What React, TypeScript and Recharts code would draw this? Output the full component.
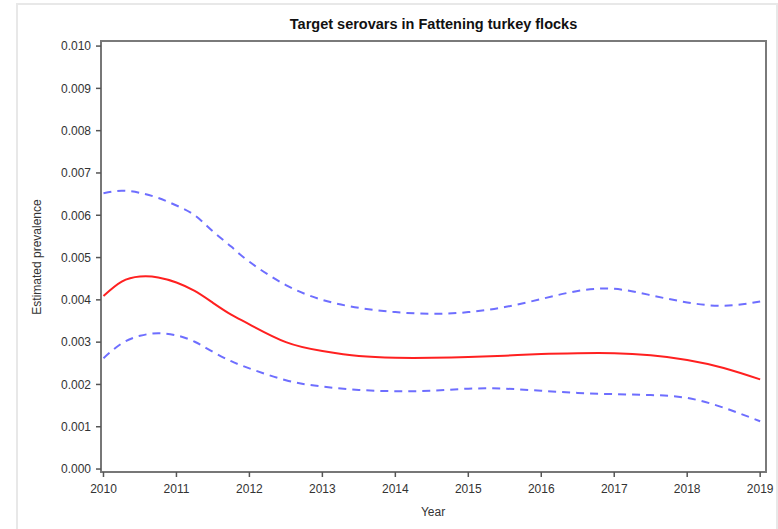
import React from "react";
import { LineChart, Line, XAxis, YAxis, ReferenceArea } from "recharts";

// sampled years (finer near the hump at the start)
const years = [
  2010, 2010.25, 2010.5, 2010.75, 2011, 2011.25, 2011.5, 2011.75, 2012,
  2012.5, 2013, 2013.5, 2014, 2014.5, 2015, 2015.5, 2016, 2016.5, 2017,
  2017.5, 2018, 2018.5, 2019,
];

const estimate = [
  0.00409, 0.00443, 0.00455, 0.00453, 0.00441, 0.00421, 0.00393, 0.00365, 0.00342,
  0.003, 0.00279, 0.00267, 0.00263, 0.00263, 0.00265, 0.00268, 0.00272, 0.00274, 0.00274,
  0.00269, 0.00258, 0.00239, 0.00212,
];

const upper = [
  0.00652, 0.00658, 0.00653, 0.00641, 0.00623, 0.006, 0.00562, 0.00526, 0.0049,
  0.00435, 0.004, 0.00381, 0.00371, 0.00367, 0.00371, 0.00383, 0.00402, 0.00421, 0.00426,
  0.00411, 0.00394, 0.00386, 0.00396,
];

const lower = [
  0.00262, 0.00297, 0.00315, 0.00321, 0.00316, 0.00301, 0.00277, 0.00255, 0.00238,
  0.0021, 0.00195, 0.00187, 0.00184, 0.00185, 0.0019, 0.0019, 0.00185, 0.0018, 0.00177,
  0.00175, 0.00168, 0.00145, 0.00113,
];

const yearTicks = [2010, 2011, 2012, 2013, 2014, 2015, 2016, 2017, 2018, 2019];
const prevTicks = [0, 0.001, 0.002, 0.003, 0.004, 0.005, 0.006, 0.007, 0.008, 0.009, 0.01];

const data = years.map((year, i) => ({
  year,
  estimate: estimate[i],
  upper: upper[i],
  lower: lower[i],
}));

const X_DOMAIN: [number, number] = [2009.966, 2019.08];
const Y_DOMAIN: [number, number] = [-0.00007, 0.01012];

const font = "'Liberation Sans', Arial, sans-serif";
const tickStyle = { fontSize: 12, fill: "#333", fontFamily: font };

export default function App() {
  return (
    <div style={{ position: "absolute", left: 0, top: 0, width: 778, height: 529, background: "#fff" }}>
      <div
        style={{
          position: "absolute",
          left: 16,
          top: 3,
          width: 758,
          height: 540,
          border: "2px solid #e8e8e8",
        }}
      />
      <div
        style={{
          position: "absolute",
          left: 101,
          width: 665,
          top: 16,
          textAlign: "center",
          fontFamily: font,
          fontWeight: "bold",
          fontSize: 14.5,
          color: "#111",
        }}
      >
        Target serovars in Fattening turkey flocks
      </div>
      <LineChart
        width={778}
        height={529}
        data={data}
        margin={{ top: 41, right: 12, bottom: 0, left: 0 }}
        style={{ position: "absolute", left: 0, top: 0 }}
      >
        <XAxis
          dataKey="year"
          type="number"
          domain={X_DOMAIN}
          ticks={yearTicks}
          allowDataOverflow
          height={57}
          tickSize={5}
          tickMargin={7}
          tick={tickStyle}
          stroke="#777"
          strokeWidth={2}
          tickLine={{ stroke: "#555", strokeWidth: 1.5 }}
          label={{
            content: () => (
              <text x={433} y={516} textAnchor="middle" fontSize={12} fill="#333" fontFamily={font}>
                Year
              </text>
            ),
          }}
        />
        <YAxis
          type="number"
          domain={Y_DOMAIN}
          ticks={prevTicks}
          allowDataOverflow
          width={101}
          tickSize={5}
          tickMargin={5}
          tick={tickStyle}
          tickFormatter={(v: number) => v.toFixed(3)}
          stroke="#777"
          strokeWidth={2}
          tickLine={{ stroke: "#555", strokeWidth: 1.5 }}
          label={{
            content: () => (
              <text
                x={41}
                y={257}
                transform="rotate(-90 41 257)"
                textAnchor="middle"
                fontSize={12}
                fill="#333"
                fontFamily={font}
              >
                Estimated prevalence
              </text>
            ),
          }}
        />
        <ReferenceArea
          x1={X_DOMAIN[0]}
          x2={X_DOMAIN[1]}
          y1={Y_DOMAIN[0]}
          y2={Y_DOMAIN[1]}
          fill="none"
          stroke="#7a7a7a"
          strokeWidth={2}
        />
        <Line
          dataKey="upper"
          type="natural"
          stroke="#6e6eff"
          strokeWidth={2}
          strokeDasharray="8 6"
          dot={false}
          isAnimationActive={false}
        />
        <Line
          dataKey="lower"
          type="natural"
          stroke="#6e6eff"
          strokeWidth={2}
          strokeDasharray="8 6"
          dot={false}
          isAnimationActive={false}
        />
        <Line
          dataKey="estimate"
          type="natural"
          stroke="#ff2020"
          strokeWidth={2}
          dot={false}
          isAnimationActive={false}
        />
      </LineChart>
    </div>
  );
}
